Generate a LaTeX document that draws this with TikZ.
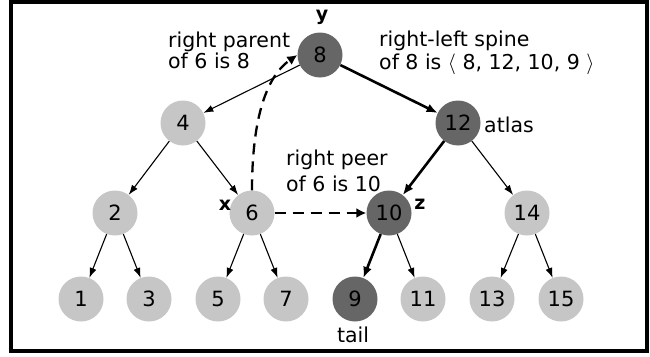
\documentclass[tikz,border=0pt]{standalone}
\usepackage{fontspec}
\setmainfont{DejaVu Sans}
\usetikzlibrary{arrows.meta}
\definecolor{lightnode}{HTML}{C6C6C6}
\definecolor{darknode}{HTML}{666666}
\tikzset{
  tnode/.style={circle, minimum size=45pt, inner sep=0pt, font=\fontsize{21}{21}\selectfont},
  lnode/.style={tnode, fill=lightnode},
  dnode/.style={tnode, fill=darknode},
  thinedge/.style={line width=1.1pt, -{Latex[length=10pt,width=7pt]}},
  thickedge/.style={line width=2.6pt, -{Latex[length=11pt,width=9pt]}},
  dashedge/.style={line width=2.3pt, dash pattern=on 11pt off 7pt, -{Latex[length=10pt,width=10pt]}},
  lbl/.style={font=\fontsize{20.5}{21}\selectfont, align=left, inner sep=0pt},
  varlbl/.style={font=\fontsize{19}{19}\selectfont\bfseries, inner sep=0pt}
}
\begin{document}
\begin{tikzpicture}[x=1pt,y=-1pt]
\useasboundingbox (0,0) rectangle (650,356);
\draw[line width=3.5pt] (11,1.8) rectangle (647,351);
% nodes
\node[dnode] (n8) at (320,55) {8};
\node[lnode] (n4) at (183,123) {4};
\node[dnode] (n12) at (458,123) {12};
\node[lnode] (n2) at (115,213) {2};
\node[lnode] (n6) at (252,213) {6};
\node[dnode] (n10) at (389,213) {10};
\node[lnode] (n14) at (527,213) {14};
\node[lnode] (n1) at (81,299) {1};
\node[lnode] (n3) at (149,299) {3};
\node[lnode] (n5) at (218,299) {5};
\node[lnode] (n7) at (286,299) {7};
\node[dnode] (n9) at (355,299) {9};
\node[lnode] (n11) at (423,299) {11};
\node[lnode] (n13) at (492,299) {13};
\node[lnode] (n15) at (561,299) {15};
% edges
\draw[thinedge] (n8) -- (n4);
\draw[thickedge] (n8) -- (n12);
\draw[thinedge] (n4) -- (n2);
\draw[thinedge] (n4) -- (n6);
\draw[thickedge] (n12) -- (n10);
\draw[thinedge] (n12) -- (n14);
\draw[thinedge] (n2) -- (n1);
\draw[thinedge] (n2) -- (n3);
\draw[thinedge] (n6) -- (n5);
\draw[thinedge] (n6) -- (n7);
\draw[thickedge] (n10) -- (n9);
\draw[thinedge] (n10) -- (n11);
\draw[thinedge] (n14) -- (n13);
\draw[thinedge] (n14) -- (n15);
% dashed arrows
\draw[dashedge] (n6.north) .. controls (252,125) and (264,78) .. (n8.west);
\draw[dashedge] (n6.east) -- (n10.west);
% labels
\node[varlbl] (ly) at (322,17) {y};
\node[varlbl] (lx) at (225,205) {x};
\node[varlbl] (lz) at (420,204) {z};
\node[lbl, anchor=base] (ltail) at (353,342) {tail};
\node[lbl, anchor=base west] (latlas) at (484,132) {atlas};
\node[lbl, anchor=base west] (lpar) at (168,68) {right parent\\of 6 is 8};
\node[lbl, anchor=base west, font=\fontsize{20.5}{23}\selectfont] (lspine) at (379,69) {right-left spine\\of 8 is \smash{$\langle$} 8, 12, 10, 9 \smash{$\rangle$}};
\node[lbl, anchor=base west, font=\fontsize{20.5}{26}\selectfont] (lpeer) at (286,191) {right peer\\of 6 is 10};
\end{tikzpicture}
\end{document}
